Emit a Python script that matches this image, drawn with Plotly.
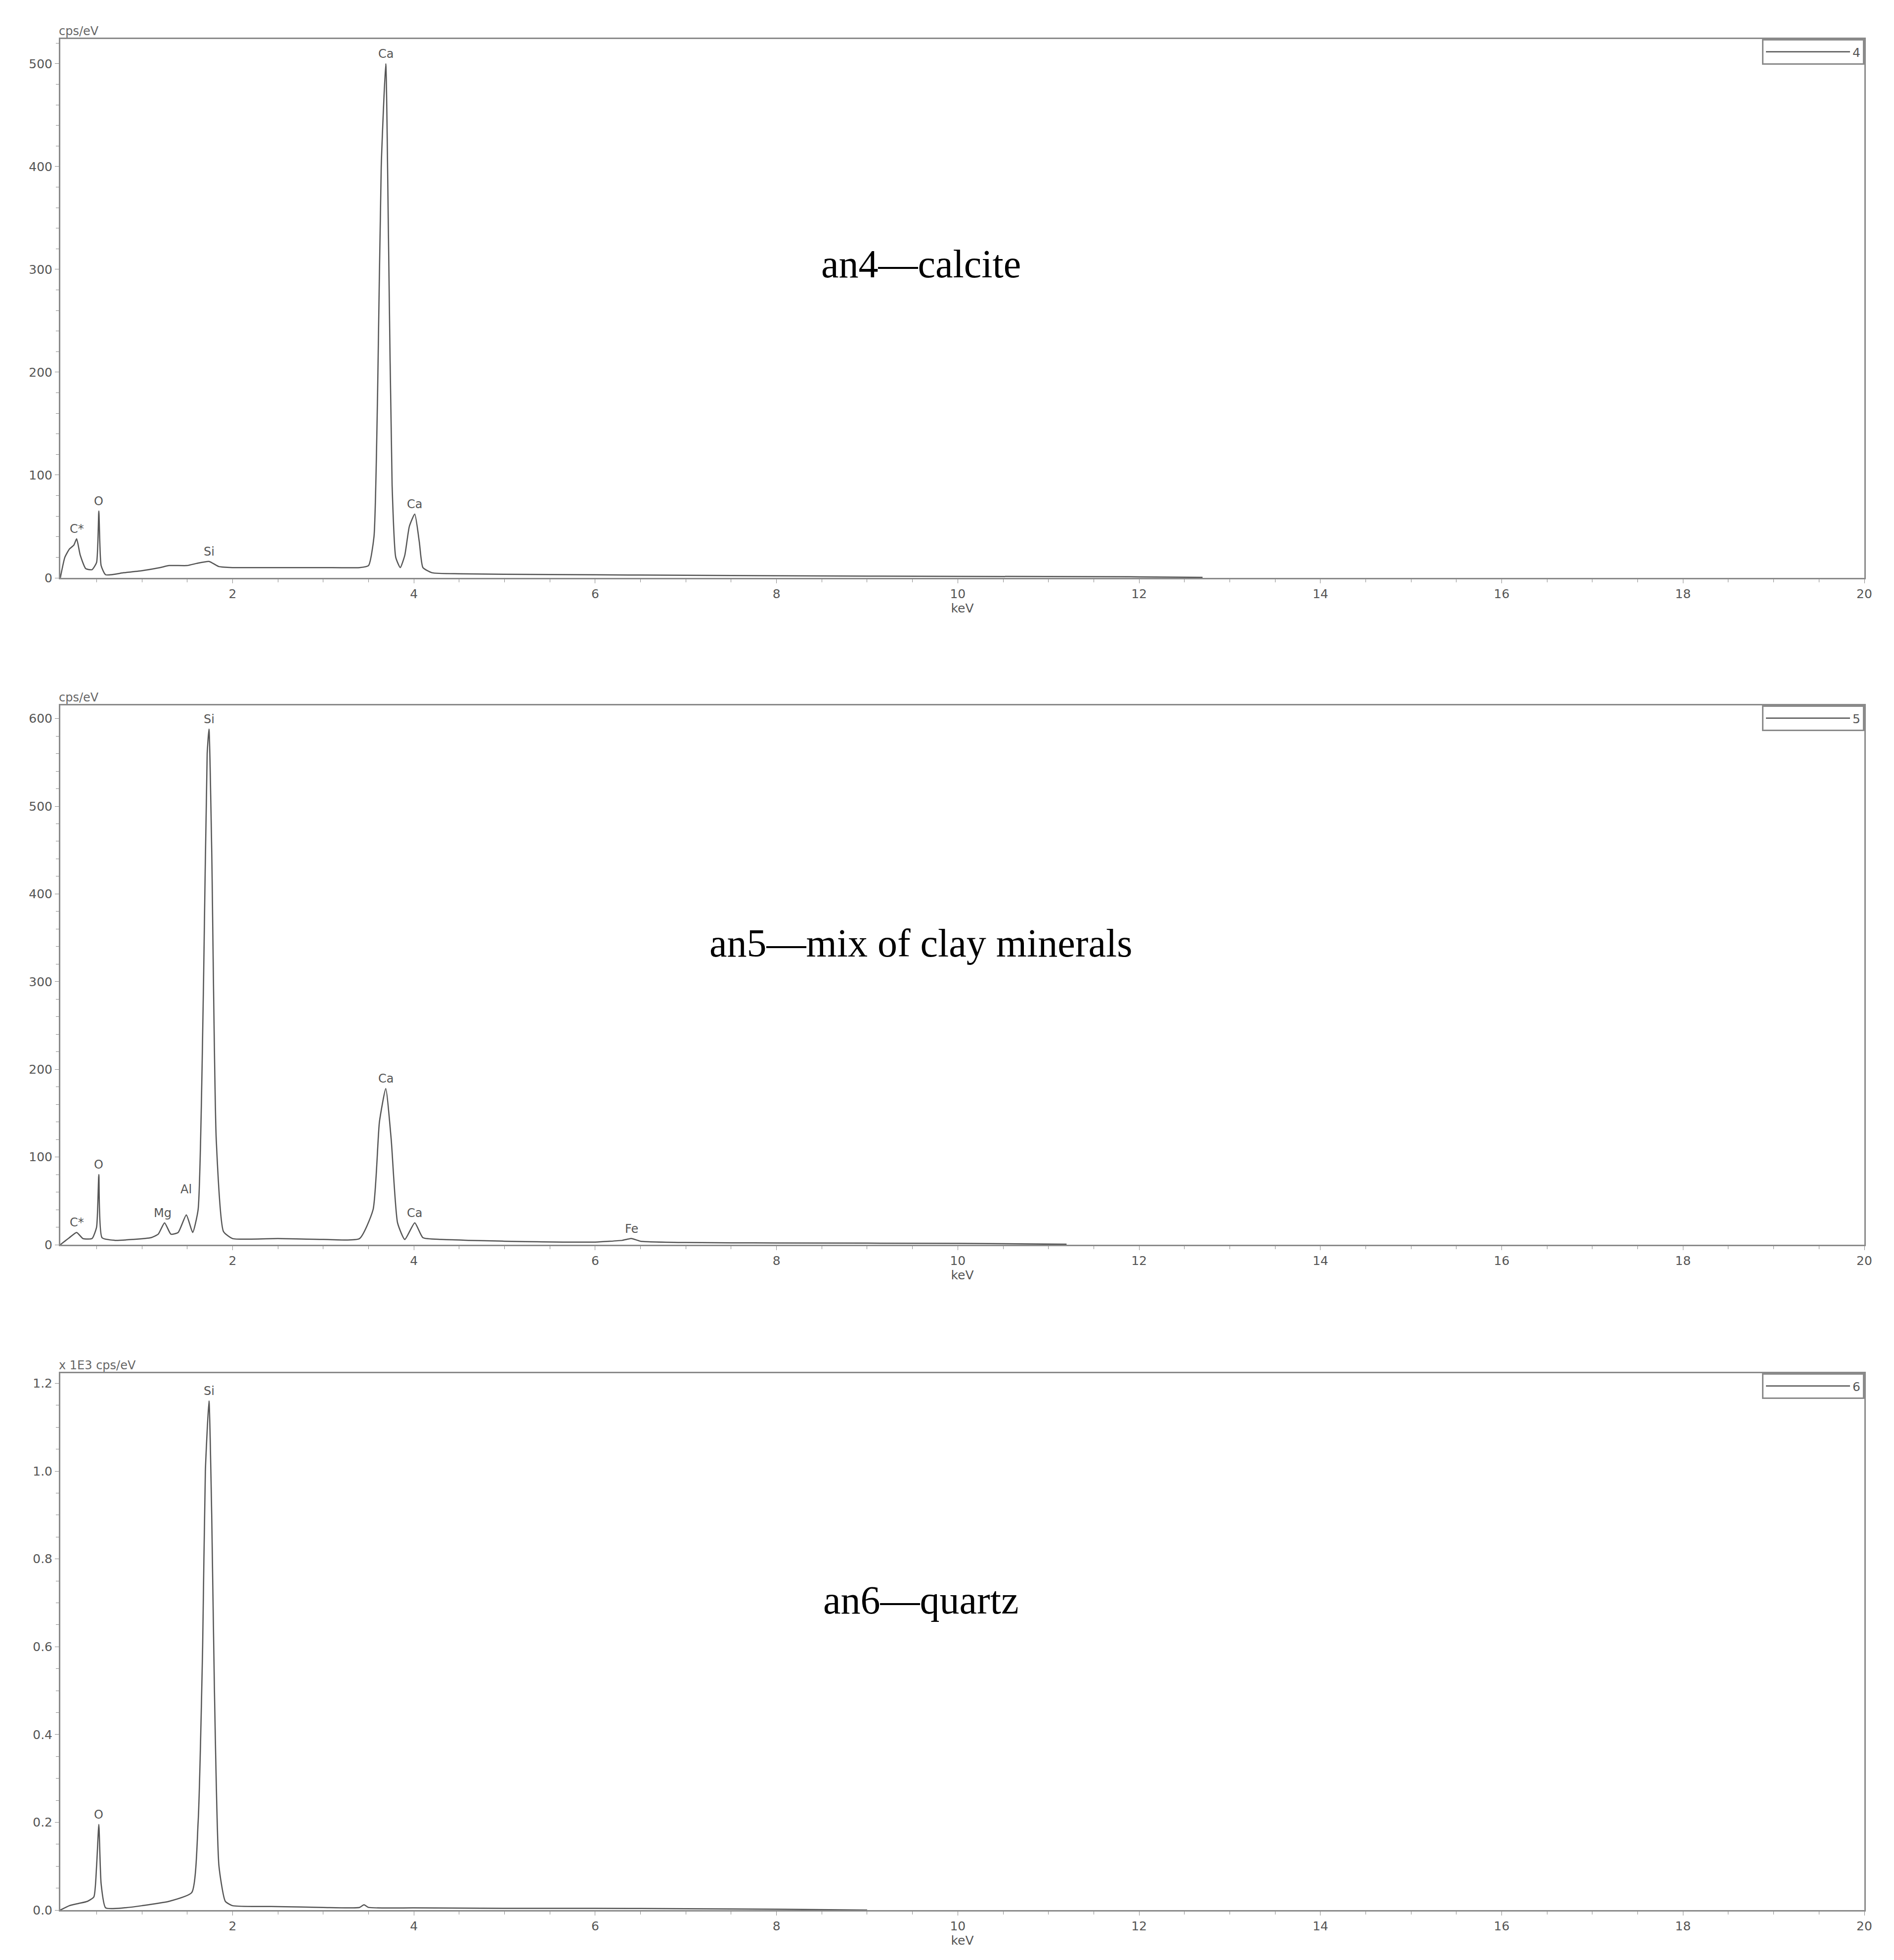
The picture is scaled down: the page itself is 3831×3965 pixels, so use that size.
import plotly.graph_objects as go

# an4 - calcite spectrum (keV, cps/eV)
kev_4 = [0.1, 0.15, 0.2, 0.25, 0.28, 0.32, 0.38, 0.45, 0.5, 0.525, 0.55, 0.6, 0.8, 1.0, 1.2, 1.3,
         1.5, 1.6, 1.74, 1.85, 2.0, 2.5, 3.0, 3.4, 3.5, 3.56, 3.6, 3.64, 3.69, 3.72, 3.76, 3.8,
         3.85, 3.9, 3.95, 4.01, 4.06, 4.1, 4.2, 4.5, 5.0, 6.0, 7.0, 8.0, 10.0, 12.0, 12.7]
cps_4 = [0, 20, 28, 32, 38, 22, 9, 8, 15, 65, 12, 3, 5, 7, 10, 12,
         12, 14, 16, 11, 10, 10, 10, 10, 12, 40, 180, 400, 500, 330, 90, 20,
         10, 22, 50, 62, 35, 10, 5, 4, 3.5, 3, 2.5, 2, 1.5, 1, 0.5]

# an5 - mix of clay minerals
kev_5 = [0.1, 0.2, 0.28, 0.35, 0.45, 0.5, 0.525, 0.56, 0.7, 0.9, 1.1, 1.18, 1.25, 1.32, 1.4, 1.49,
         1.56, 1.62, 1.68, 1.72, 1.74, 1.77, 1.82, 1.9, 2.0, 2.5, 3.0, 3.4, 3.55, 3.62, 3.69, 3.75,
         3.82, 3.9, 4.01, 4.1, 4.3, 4.6, 5.0, 6.0, 6.3, 6.4, 6.5, 7.0, 8.0, 10.0, 11.2]
cps_5 = [0, 8, 14, 7, 7, 20, 80, 8, 5, 6, 8, 12, 25, 12, 14, 34,
         14, 40, 300, 560, 588, 450, 120, 15, 7, 7, 6, 7, 40, 140, 178, 120,
         25, 6, 25, 8, 6, 5, 4, 3, 5, 7, 4, 2.5, 2, 1.5, 0.5]

# an6 - quartz (x 1E3 cps/eV)
kev_6 = [0.1, 0.2, 0.3, 0.4, 0.47, 0.5, 0.525, 0.55, 0.6, 0.8, 1.0, 1.3, 1.55, 1.62, 1.67, 1.7,
         1.74, 1.77, 1.8, 1.85, 1.92, 2.0, 2.5, 3.0, 3.4, 3.45, 3.5, 4.0, 5.0, 6.0, 7.0, 8.0, 9.0]
cps_6 = [0.0, 0.01, 0.015, 0.02, 0.03, 0.1, 0.195, 0.06, 0.005, 0.005, 0.01, 0.02, 0.04, 0.2, 0.6, 1.0,
         1.16, 0.9, 0.5, 0.1, 0.02, 0.01, 0.008, 0.006, 0.006, 0.012, 0.006, 0.005, 0.004, 0.004, 0.003, 0.002, 0.0]

names = ["4", "5", "6"]
titles = ["an4\u2014calcite", "an5\u2014mix of clay minerals", "an6\u2014quartz"]
y_units = ["cps/eV", "cps/eV", "x 1E3 cps/eV"]
y_max = [524, 615, 1.223]
y_major = [100, 100, 0.2]
y_minor = [20, 20, 0.05]

# element labels: (keV, y, text)
labels_4 = [(0.28, 38, "C*"), (0.525, 65, "O"), (1.74, 16, "Si"), (3.69, 500, "Ca"), (4.01, 62, "Ca")]
labels_5 = [(0.28, 14, "C*"), (0.525, 80, "O"), (1.23, 25, "Mg"), (1.49, 52, "Al"), (1.74, 588, "Si"),
            (3.69, 178, "Ca"), (4.01, 25, "Ca"), (6.4, 7, "Fe")]
labels_6 = [(0.525, 0.195, "O"), (1.74, 1.16, "Si")]

W, H = 3831, 3965
ML, MR, MT, MB = 114, 68, 71, 109
plot_h = H - MT - MB


def py(p):
    return (H - MB - p) / plot_h


domains = [[py(1161), py(71)], [py(2510), py(1419)], [py(3856), py(2770)]]
text_y = [py(480), py(1900), py(3275)]

fig = go.Figure()
spectra = [(kev_4, cps_4, labels_4), (kev_5, cps_5, labels_5), (kev_6, cps_6, labels_6)]
axis_grey = "#8a8a8a"
tick_font = dict(family="DejaVu Sans", size=25, color="#555555")

for i, (kx, ky, labs) in enumerate(spectra):
    n = "" if i == 0 else str(i + 1)
    leg = "legend" if i == 0 else "legend" + str(i + 1)
    fig.add_trace(go.Scatter(x=kx, y=ky, mode="lines", name=names[i],
                             line=dict(color="#555555", width=2.5, shape="spline", smoothing=0.5),
                             xaxis="x" + n, yaxis="y" + n, legend=leg))
    fig.layout["xaxis" + n] = dict(domain=[0, 1], anchor="y" + n, range=[0.1, 20], tickvals=list(range(2, 21, 2)),
                                   ticks="outside", ticklen=8, tickcolor=axis_grey, showline=True, mirror=True,
                                   linecolor=axis_grey, linewidth=3, showgrid=False, zeroline=False, tickfont=tick_font,
                                   minor=dict(dtick=0.5, tick0=0, ticks="outside", ticklen=6, tickcolor=axis_grey),
                                   title=dict(text="keV", font=tick_font, standoff=2))
    fig.layout["yaxis" + n] = dict(domain=domains[i], anchor="x" + n, range=[0, y_max[i]], dtick=y_major[i],
                                   ticks="outside", ticklen=8, tickcolor=axis_grey, showline=True, mirror=True,
                                   linecolor=axis_grey, linewidth=3, showgrid=False, zeroline=False, tickfont=tick_font,
                                   tickformat=".1f" if i == 2 else "d",
                                   minor=dict(dtick=y_minor[i], ticks="outside", ticklen=6, tickcolor=axis_grey))
    fig.layout[leg] = dict(x=1, xanchor="right", y=domains[i][1], yanchor="top", bordercolor=axis_grey,
                           borderwidth=3, bgcolor="white", font=tick_font, itemwidth=170)
    for lx, ly, lt in labs:
        fig.add_annotation(x=lx, y=ly, xref="x" + n, yref="y" + n, text=lt, showarrow=False, yanchor="bottom",
                           yshift=4, font=dict(family="DejaVu Sans", size=24, color="#555555"))
    fig.add_annotation(x=0, y=domains[i][1], xref="paper", yref="paper", text=y_units[i], showarrow=False,
                       xanchor="left", yanchor="bottom", xshift=-5, font=dict(family="DejaVu Sans", size=24, color="#666666"))
    fig.add_annotation(x=0.477, y=text_y[i], xref="paper", yref="paper", text=titles[i], showarrow=False,
                       font=dict(family="Liberation Serif", size=80, color="black"))

fig.update_layout(width=W, height=H, margin=dict(l=ML, r=MR, t=MT, b=MB), plot_bgcolor="white",
                  paper_bgcolor="white", showlegend=True)
fig.write_html("out.html")
